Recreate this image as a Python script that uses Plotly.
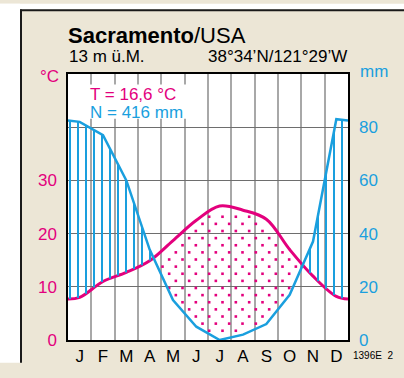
import numpy as np
import plotly.graph_objects as go

# ---------------- data ----------------
months = ["J", "F", "M", "A", "M", "J", "J", "A", "S", "O", "N", "D"]
temp_c = [8.0, 11.0, 12.7, 14.9, 18.7, 22.5, 25.2, 24.4, 22.7, 17.0, 12.0, 8.2]
precip_mm = [82, 77, 60, 34, 15, 5, 0, 2, 6, 17, 37, 83]
temp_edge = 7.7        # value drawn at the year boundary
precip_edge = 82.5
temp_ticks = [0, 10, 20, 30]
precip_ticks = [0, 20, 40, 60, 80]
station = "Sacramento"
country = "/USA"
altitude = "13 m ü.M."
coords = "38°34’N/121°29’W"
mean_t = "T = 16,6 °C"
sum_n = "N = 416 mm"
code = "1396E  2"

# ---------------- style ----------------
W, H = 404, 378
ML, MR, MT, MB = 68, 56, 74, 24
PW, PH = W - ML - MR, H - MT - MB
MAG = "#e3007d"
BLUE = "#1a9fde"
BEIGE = "#ece6d6"
FONT = "Liberation Sans, Arial, Helvetica, sans-serif"
XS = PW / 12.0
YS_T = PH / 50.0
YS_P = PH / 100.0

xm = [i + 0.5 for i in range(12)]
tx = [0.0] + xm + [12.0]
ty = [temp_edge] + temp_c + [temp_edge]
px_ = [0.0] + xm + [12.0]
py_ = [precip_edge] + precip_mm + [precip_edge]


def plotly_spline(xs, ys, sx, sy, smooth=1.0, n=80):
    """Replicates plotly.js spline path (pixel space) to sample the drawn curve."""
    pts = np.column_stack([np.asarray(xs) * sx, -np.asarray(ys) * sy])
    m = len(pts)
    tang = []
    for i in range(1, m - 1):
        p0, p1, p2 = pts[i - 1], pts[i], pts[i + 1]
        d1 = p0 - p1
        d2 = p2 - p1
        d1a = np.hypot(*d1) ** 0.5
        d2a = np.hypot(*d2) ** 0.5
        num = (d2a * d2a * d1 - d1a * d1a * d2) * smooth
        den1 = 3 * d2a * (d1a + d2a)
        den2 = 3 * d1a * (d1a + d2a)
        tang.append((p1 + num / den1, p1 - num / den2))
    t = np.linspace(0, 1, n)[:, None]
    out = []
    a, c, b = pts[0], tang[0][0], pts[1]
    out.append((1 - t) ** 2 * a + 2 * (1 - t) * t * c + t ** 2 * b)
    for i in range(2, m - 1):
        a, c1, c2, b = pts[i - 1], tang[i - 2][1], tang[i - 1][0], pts[i]
        out.append((1 - t) ** 3 * a + 3 * (1 - t) ** 2 * t * c1 + 3 * (1 - t) * t ** 2 * c2 + t ** 3 * b)
    a, c, b = pts[m - 2], tang[m - 3][1], pts[m - 1]
    out.append((1 - t) ** 2 * a + 2 * (1 - t) * t * c + t ** 2 * b)
    arr = np.vstack(out)
    X = arr[:, 0] / sx
    Y = -arr[:, 1] / sy
    order = np.argsort(X)
    return X[order], Y[order]


SX, SY = plotly_spline(tx, ty, XS, YS_T)


def temp_at(x):
    return np.interp(x, SX, SY)


def prec_at(x):
    return np.interp(x, px_, py_)


# humid hatching (vertical blue lines between 2*T and N)
hx, hy = [], []
for k in range(35):
    x = (k + 0.25) * 12 / 35
    lo = 2 * temp_at(x)
    hi = prec_at(x)
    if hi - lo > 0.6:
        hx += [x, x, None]
        hy += [lo, hi, None]

# arid dotted area (staggered dots between N and 2*T)
dx, dy = [], []
row_step = 7.5 / YS_P
col_step = 12 / 21
k = 0
yv = 0.8
while yv < 60:
    off = (k % 2) * col_step / 2
    x = 0.05 + off
    while x < 12:
        top = 2 * temp_at(x)
        bot = prec_at(x)
        if bot + 1.2 < yv < top - 1.6:
            dx.append(x)
            dy.append(yv)
        x += col_step
    yv += row_step
    k += 1

fig = go.Figure()

fig.add_trace(go.Scatter(x=dx, y=dy, yaxis="y2", mode="markers",
                         marker=dict(symbol="square", size=2.6, color=MAG, line=dict(width=0)),
                         hoverinfo="skip", showlegend=False))
fig.add_trace(go.Scatter(x=hx, y=hy, yaxis="y2", mode="lines",
                         line=dict(color=BLUE, width=2), hoverinfo="skip", showlegend=False))
fig.add_trace(go.Scatter(x=px_, y=py_, yaxis="y2", mode="lines",
                         line=dict(color=BLUE, width=2.5), showlegend=False))
fig.add_trace(go.Scatter(x=tx, y=ty, mode="lines",
                         line=dict(color=MAG, width=3, shape="spline", smoothing=1), showlegend=False))


def pxx(p):
    return (p - ML) / PW


def pxy(p):
    return (H - MB - p) / PH


# all shapes stay inside the 404x378 figure (no page overflow)
shapes = [
    dict(type="rect", xref="paper", yref="paper", x0=pxx(0), x1=pxx(20), y0=pxy(H), y1=pxy(0),
         fillcolor="white", line=dict(width=0), layer="below"),
    dict(type="rect", xref="paper", yref="paper", x0=pxx(0), x1=pxx(W), y0=pxy(6), y1=pxy(0),
         fillcolor="white", line=dict(width=0), layer="below"),
    dict(type="line", xref="paper", yref="paper", x0=pxx(21), x1=pxx(21), y0=pxy(6), y1=pxy(H),
         line=dict(color="#1a1a1a", width=2), layer="below"),
    dict(type="line", xref="paper", yref="paper", x0=pxx(20), x1=pxx(W), y0=pxy(7), y1=pxy(7),
         line=dict(color="#1a1a1a", width=2), layer="below"),
    # white box behind the T / N text
    dict(type="rect", xref="paper", yref="paper", x0=pxx(69), x1=pxx(195),
         y0=pxy(121), y1=pxy(85),
         fillcolor="white", line=dict(width=0), layer="above"),
]

ann = []


def add_text(text, x, y, xanchor, size, color="black", yanchor="middle"):
    ann.append(dict(text=text, xref="paper", yref="paper", x=pxx(x), y=pxy(y),
                    xanchor=xanchor, yanchor=yanchor, showarrow=False,
                    font=dict(family=FONT, size=size, color=color)))


add_text(f"<b>{station}</b>{country}", 66, 33, "left", 22)
add_text(altitude, 67, 56, "left", 17)
add_text(coords, 349, 56, "right", 17)
add_text("°C", 61, 77, "right", 17, MAG)
add_text("mm", 358, 71, "left", 17, BLUE)
add_text(mean_t, 88, 96, "left", 17, MAG)
add_text(sum_n, 88, 115, "left", 17, BLUE)
add_text(code, 351, 370, "left", 10)

fig.update_layout(
    width=W, height=H,
    margin=dict(l=ML, r=MR, t=MT, b=MB, pad=0),
    paper_bgcolor=BEIGE, plot_bgcolor="white",
    font=dict(family=FONT),
    shapes=shapes, annotations=ann,
    xaxis=dict(range=[0, 12], tickvals=xm, ticktext=months, ticks="",
               tickfont=dict(size=17, color="black"), showgrid=False, zeroline=False,
               showline=True, mirror=True, linecolor="black", linewidth=1.5,
               minor=dict(tickvals=list(range(1, 12)), showgrid=True, gridcolor="#a8a8a8",
                          gridwidth=1.6, ticks=""),
               fixedrange=True),
    yaxis=dict(range=[0, 50], tickvals=temp_ticks, ticks="", ticklabelstandoff=6,
               tickfont=dict(size=17, color=MAG), showgrid=False, zeroline=False,
               showline=True, mirror=True, linecolor="black", linewidth=1.5,
               minor=dict(tickvals=[10, 20, 30, 40], showgrid=True, gridcolor="#6e6e6e",
                          gridwidth=1, ticks=""),
               fixedrange=True),
    yaxis2=dict(range=[0, 100], tickvals=precip_ticks, overlaying="y", side="right",
                ticks="", ticklabelstandoff=10, tickfont=dict(size=17, color=BLUE),
                showgrid=False, zeroline=False, showline=False, fixedrange=True),
    showlegend=False,
)

fig.write_html("out.html", config={"displayModeBar": False},
               post_script=("var de=document.documentElement;de.style.overflow='hidden';"
                            "de.style.width='404px';de.style.height='378px';"
                            "document.body.style.margin='0';document.body.style.overflow='hidden';"
                            "document.body.style.width='404px';document.body.style.height='378px';"))
